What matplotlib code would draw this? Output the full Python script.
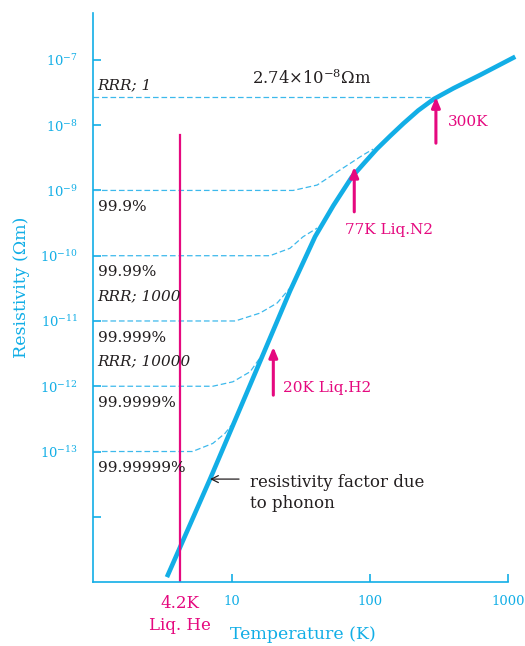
import matplotlib
matplotlib.use("Agg")
import matplotlib.pyplot as plt

plt.rcParams['font.family'] = ['DejaVu Serif']
plt.rcParams['mathtext.fontset'] = 'dejavuserif'

CYAN = '#12aee6'
DASH = '#3db9ec'
MAGENTA = '#e5097f'
INK = '#231f20'

# phonon-limited resistivity
T_phonon = [3.40, 6.97, 13.57, 26.4, 40.1, 54.4, 74.0, 92.3, 112.2, 140.1,
            174.8, 223.4, 288.3, 402.4, 628.1, 1125]
rho_phonon = [1.19e-15, 3.78e-14, 1.04e-12, 2.88e-11, 1.96e-10, 5.88e-10,
              1.61e-9, 2.73e-9, 4.32e-9, 6.84e-9, 1.063e-8, 1.68e-8, 2.50e-8,
              3.68e-8, 5.89e-8, 1.12e-7]

# impurity curves: residual level, then bending up onto the phonon curve
T_imp = [
    [1, 27.8, 41.5, 60.8, 89.3, 105.5],
    [1, 18.9, 26.4, 32.8, 41.5],
    [1, 10.6, 16.0, 21.3, 26.4],
    [1, 7.3, 10.2, 13.6, 16.9],
    [1, 5.2, 7.3, 8.95, 10.2],
]
rho_imp = [
    [1e-9, 1e-9, 1.21e-9, 2.06e-9, 3.5e-9, 4.3e-9],
    [1e-10, 1e-10, 1.30e-10, 1.95e-10, 2.65e-10],
    [1e-11, 1e-11, 1.32e-11, 1.88e-11, 3.2e-11],
    [1e-12, 1e-12, 1.17e-12, 1.67e-12, 3.2e-12],
    [1e-13, 1e-13, 1.33e-13, 1.9e-13, 2.7e-13],
]
purity = ['99.9%', '99.99%', '99.999%', '99.9999%', '99.99999%']
rho_room = 2.74e-8

yticks = [1e-14, 1e-13, 1e-12, 1e-11, 1e-10, 1e-9, 1e-8, 1e-7]
ylabels = ['', r'$10^{-13}$', r'$10^{-12}$', r'$10^{-11}$', r'$10^{-10}$',
           r'$10^{-9}$', r'$10^{-8}$', r'$10^{-7}$']
xticks = [10, 100, 1000]

fig = plt.figure(figsize=(5.25, 6.46), dpi=100)
ax = fig.add_axes([0.178, 0.099, 0.790, 0.881])
ax.set_xscale('log')
ax.set_yscale('log')
ax.set_xlim(1, 1000)
ax.set_ylim(1e-15, 10 ** -6.28)

for s in ['top', 'right']:
    ax.spines[s].set_visible(False)
for s in ['left', 'bottom']:
    ax.spines[s].set_color(CYAN)
    ax.spines[s].set_linewidth(1.2)

ax.set_xticks(xticks)
ax.set_xticklabels([str(t) for t in xticks])
ax.set_yticks(yticks)
ax.set_yticklabels(ylabels)
ax.minorticks_off()
ax.tick_params(direction='in', length=6, width=1.2, color=CYAN,
               labelcolor=CYAN, labelsize=9.5)
ax.tick_params(axis='x', pad=9)
ax.tick_params(axis='y', pad=11)

# dashed impurity curves
dash = (0, (4.5, 2.3))
ax.plot([1, 300], [rho_room, rho_room], ls=dash, lw=0.9, color=DASH)
for Ts, rs in zip(T_imp, rho_imp):
    ax.plot(Ts, rs, ls=dash, lw=0.9, color=DASH)

ax.plot(T_phonon, rho_phonon, color=CYAN, lw=3.3, clip_on=False,
        solid_capstyle='butt', solid_joinstyle='round')

# liquid helium line
ax.plot([4.2, 4.2], [1e-15, 7e-9], color=MAGENTA, lw=1.6)

# temperature arrows
for T, y0, y1 in [(300, 5.3e-9, 2.7e-8), (77, 4.7e-10, 2.3e-9), (20, 7.3e-13, 4e-12)]:
    ax.annotate('', xy=(T, y1), xytext=(T, y0),
                arrowprops=dict(arrowstyle='-|>,head_length=0.6,head_width=0.25',
                                color=MAGENTA, lw=2.2, shrinkA=0, shrinkB=0))

fs = 11
ax.text(368, 1.12e-8, '300K', color=MAGENTA, fontsize=fs, va='center')
ax.text(66, 2.48e-10, '77K Liq.N2', color=MAGENTA, fontsize=fs, va='center')
ax.text(23.6, 9.4e-13, '20K Liq.H2', color=MAGENTA, fontsize=fs, va='center')

ax.text(14.0, 5.1e-8, r'2.74$\times$10$^{-8}\Omega$m', color=INK, fontsize=11.8,
        va='center')

for r, lab in zip([1e-9, 1e-10, 1e-11, 1e-12, 1e-13], purity):
    ax.annotate(lab, xy=(1.07, r), xytext=(0, -12), textcoords='offset points',
                color=INK, fontsize=fs, va='center', ha='left')
ax.text(1.07, 4.1e-8, 'RRR; 1', color=INK, fontsize=fs, style='italic', va='center')
ax.text(1.07, 2.4e-11, 'RRR; 1000', color=INK, fontsize=fs, style='italic', va='center')
ax.text(1.07, 2.4e-12, 'RRR; 10000', color=INK, fontsize=fs, style='italic', va='center')

ax.annotate('', xy=(6.97, 3.78e-14), xytext=(11.3, 3.78e-14),
            arrowprops=dict(arrowstyle='->,head_length=0.5,head_width=0.25',
                            color=INK, lw=0.9, shrinkA=0, shrinkB=0))
ax.text(13.57, 2.34e-14, 'resistivity factor due\nto phonon', color=INK,
        fontsize=12, va='center', ha='left', linespacing=1.3)

xt = ax.get_xaxis_transform()
ax.text(4.2, -0.037, '4.2K', transform=xt, color=MAGENTA, fontsize=12,
        ha='center', va='center')
ax.text(4.2, -0.076, 'Liq. He', transform=xt, color=MAGENTA, fontsize=12,
        ha='center', va='center')

ax.text(0.505, -0.093, 'Temperature (K)', transform=ax.transAxes, color=CYAN,
        fontsize=12.5, ha='center', va='center')
ax.text(-0.173, 0.518, 'Resistivity (Ωm)', transform=ax.transAxes, color=CYAN,
        fontsize=12.5, ha='center', va='center', rotation=90)

fig.savefig('out.png', dpi=100)
